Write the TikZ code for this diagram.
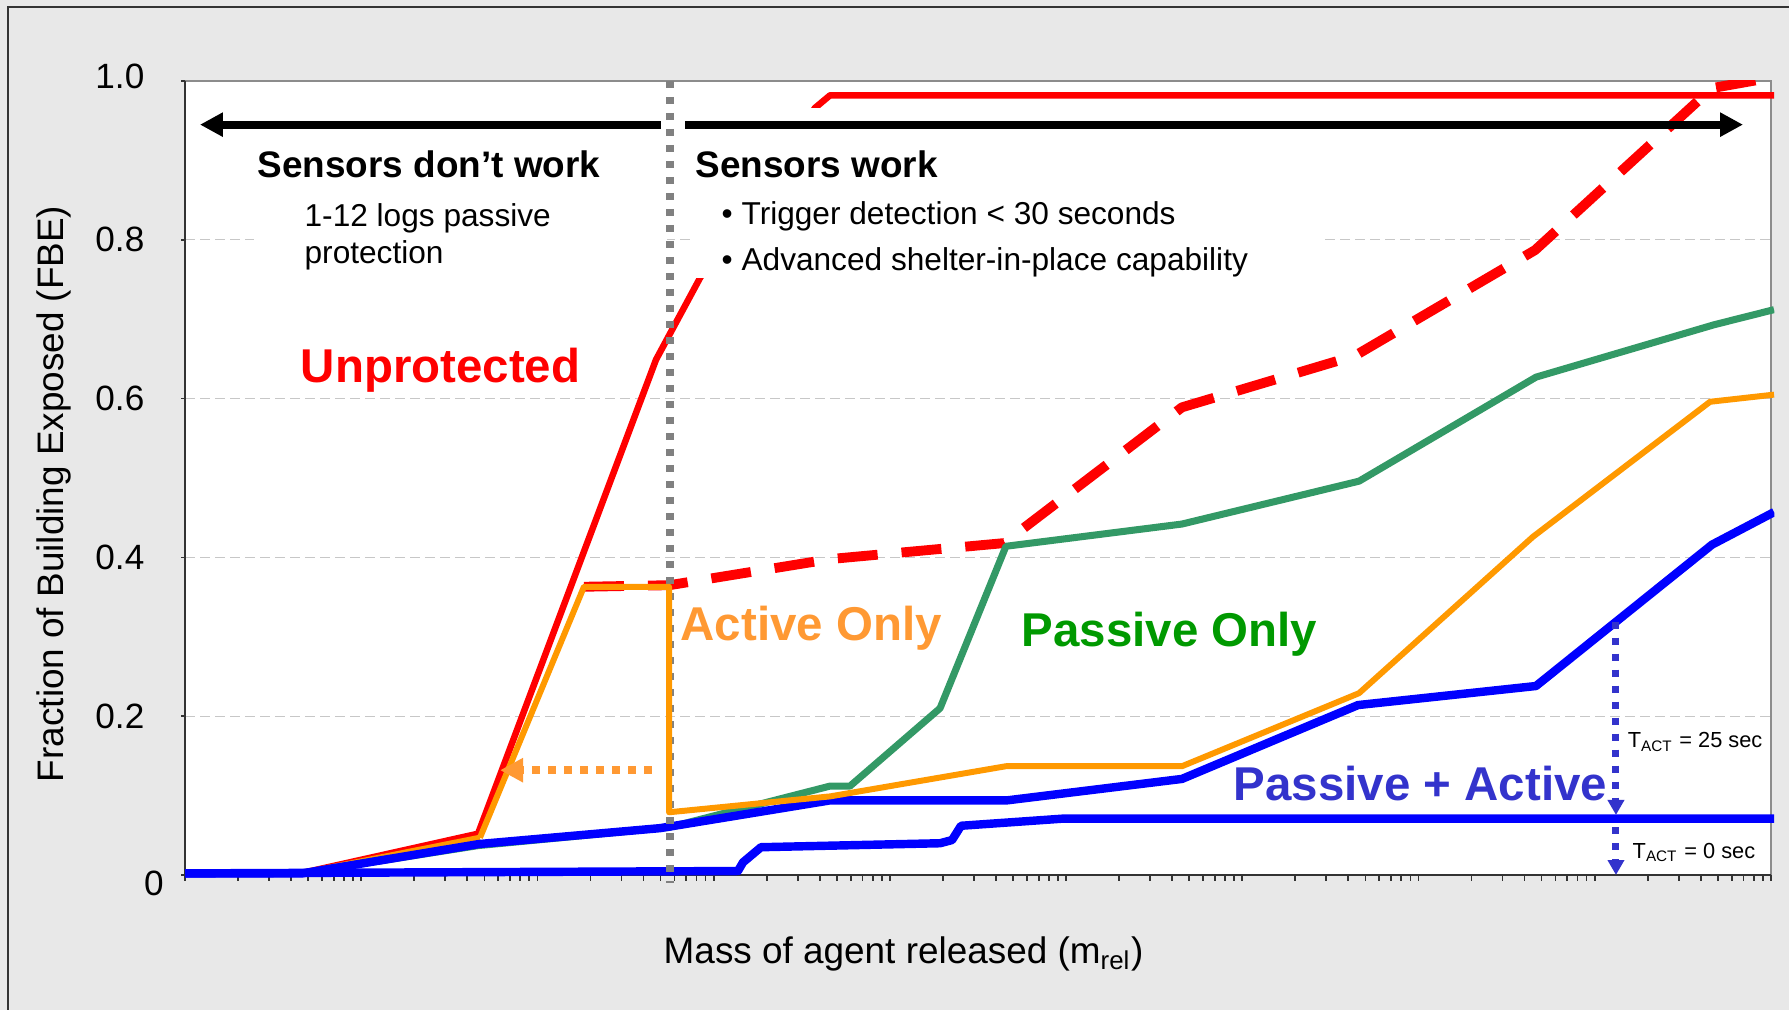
\documentclass[tikz,border=0pt]{standalone}
\usepackage{fontspec}
\setmainfont{Liberation Sans}
\usetikzlibrary{arrows.meta}
\definecolor{panel}{HTML}{E8E8E8}
\definecolor{unprot}{HTML}{FF0000}
\definecolor{actline}{HTML}{FF9900}
\definecolor{acttext}{HTML}{FF9933}
\definecolor{pasline}{HTML}{339966}
\definecolor{pastext}{HTML}{009900}
\definecolor{bothline}{HTML}{0000FF}
\definecolor{bothtext}{HTML}{3333CC}
\tikzset{series/.style={line width=#1, line join=round}}

\begin{document}
\begin{tikzpicture}[
		x=17.62mm, y=79.4mm, inner sep=0pt,
		font=\fontsize{10}{12}\selectfont,
		gridline/.style={draw=black!22, line width=0.3pt, dash pattern=on 1mm off 0.5mm},
		heading/.style={font=\bfseries\fontsize{10.5}{12}\selectfont, anchor=base west},
		note/.style={font=\fontsize{9}{11}\selectfont, anchor=base west},
		curvelabel/.style={font=\bfseries\fontsize{13.5}{16}\selectfont, anchor=base west},
		tact/.style={font=\fontsize{6.2}{7}\selectfont, anchor=base west},
		sensorrange/.style={-{Triangle[length=2.3mm, width=2.3mm]}, line width=2.3pt},
		shiftarrow/.style={-{Triangle[length=2.3mm, width=2.3mm]}, line width=2.3pt, dash pattern=on 0.8mm off 0.8mm},
		drop/.style={-{Triangle[length=1.5mm, width=1.6mm]}, line width=2pt, dash pattern=on 0.7mm off 0.9mm}
		]
		% background panel
		\fill[panel] (-1.050,-0.170) rectangle (9.103,1.102);
		\useasboundingbox (-1.050,-0.170) rectangle (9.103,1.102);
		\draw[black!80, line width=0.55pt] (-1.005,-0.170) -- (-1.005,1.093) -- (9.103,1.093);
		
		% plot area and grid
		\fill[white] (0,0) rectangle (9,1);
		\foreach \v in {0.2,0.4,0.6,0.8}
			\draw[gridline] (0,\v) -- (9,\v);
		\draw[black!45, line width=0.6pt] (0,1) -- (9,1) -- (9,0);
		\draw[black!80, line width=0.6pt] (0,1) -- (0,0) -- (9,0);
		
		% y axis
		\foreach \v in {0,0.2,...,1.0}
			\draw[black!80, line width=0.5pt] (0,\v) -- (-0.025,\v);
		\foreach \v in {0.2,0.4,0.6,0.8}
			\node[anchor=east] at (-0.227,\v) {\v};
		\node[anchor=east] (ytop) at (-0.227,1.006) {1.0};
		\node (yzero) at (-0.176,-0.011) {0};
		\node[rotate=90, font=\fontsize{10.5}{12}\selectfont] (ytitle) at (-0.743,0.480) {Fraction of Building Exposed (FBE)};
		
		% x axis, log decades
		\foreach \d in {0,...,9}
			\draw[black!80, line width=0.5pt] (\d,0) -- ++(0,-0.008);
		\foreach \d in {0,...,8}
			\foreach \k in {2,...,9}
				\draw[black!80, line width=0.5pt] ({\d+log10(\k)},0) -- ++(0,-0.008);
		\node[anchor=base, font=\fontsize{10.5}{12}\selectfont] (xtitle) at (4.078,-0.112) {Mass of agent released (m\textsubscript{rel})};
		
		% curves
		\begin{scope}
			\clip (-0.1,-0.05) rectangle (9.02,1);
			\draw[unprot, series=2.8pt, dash pattern=on 4mm off 2.4mm] (2.264,0.363) -- (2.750,0.365) -- (3.666,0.398) -- (4.648,0.418) -- (5.658,0.589) -- (6.640,0.654) -- (7.662,0.787) -- (8.666,0.991) -- (9.2,1.012);
			\draw[unprot, series=1.85pt] (0,0.002) -- (0.653,0.002) -- (1.663,0.052) -- (2.673,0.649) -- (2.923,0.752) -- (3.575,0.966) -- (3.661,0.982) -- (9.018,0.982);
			% orange: low end sits under the blue curves
			\draw[actline, series=1.7pt] (0,0.002) -- (0.653,0.002) -- (1.674,0.047);
			\draw[pasline, series=2pt] (0,0.002) -- (0.653,0.002) -- (1.663,0.037) -- (2.747,0.060) -- (3.661,0.112) -- (3.774,0.112) -- (4.285,0.210) -- (4.659,0.414) -- (5.658,0.442) -- (6.663,0.496) -- (7.667,0.627) -- (8.678,0.693) -- (9.018,0.712);
			\draw[bothline, series=2.4pt] (0,0.002) -- (0.664,0.002) -- (1.669,0.039) -- (2.696,0.059) -- (3.661,0.094) -- (4.665,0.094) -- (5.658,0.121) -- (6.657,0.214) -- (7.667,0.238) -- (8.666,0.416) -- (9.018,0.457);
			\draw[bothline, series=2.4pt] (0,0.002) -- (3.138,0.005) -- (3.167,0.016) -- (3.269,0.035) -- (4.285,0.040) -- (4.353,0.044) -- (4.404,0.062) -- (4.983,0.071) -- (9.018,0.071);
		\end{scope}
		
		% white boxes behind the text
		\fill[white] (0.392,0.752) rectangle (2.736,0.929);
		\fill[white] (2.894,0.752) rectangle (6.452,0.966);
		
		% sensor threshold
		\coordinate (thrtop) at (2.753,1);
		\coordinate (thrbot) at (2.753,-0.010);
		\draw[black!50, line width=2.1pt, dash pattern=on 0.75mm off 0.85mm] (thrtop) -- (thrbot);
		
		\draw[actline, series=1.7pt] (1.674,0.047) -- (2.264,0.363) -- (2.747,0.363) -- (2.747,0.079) -- (3.661,0.099) -- (4.659,0.137) -- (5.658,0.137) -- (6.663,0.229) -- (7.650,0.426) -- (8.655,0.596) -- (9.018,0.605);
		
		% ranges
		\coordinate (splitL) at (2.701,0.945);
		\coordinate (splitR) at (2.838,0.945);
		\coordinate (dontend) at (0.085,0.945);
		\coordinate (workend) at (8.842,0.945);
		\draw[sensorrange] (splitL) -- (dontend);
		\draw[sensorrange] (splitR) -- (workend);
		
		\node[heading] (dont) at (0.409,0.879) {Sensors don’t work};
		\node[note] (logs) at (0.675,0.817) {1-12 logs passive};
		\node[note] (prot) at ([yshift=-3.7mm]logs.base west) {protection};
		\node[heading] (work) at (2.894,0.879) {Sensors work};
		\node[note] (trig) at (3.042,0.819) {\textbullet\ Trigger detection < 30 seconds};
		\node[note] (shelter) at ([yshift=-4.6mm]trig.base west) {\textbullet\ Advanced shelter-in-place capability};
		
		% curve labels
		\node[curvelabel, text=unprot] (unp) at (0.653,0.620) {Unprotected};
		\node[curvelabel, text=acttext] (act) at (2.809,0.295) {Active Only};
		\node[curvelabel, text=pastext] (pas) at (4.745,0.288) {Passive Only};
		\node[curvelabel, text=bothtext] (both) at (5.948,0.094) {Passive + Active};
		
		% shift of the active curve
		\coordinate (shiftfrom) at (2.650,0.132);
		\coordinate (shiftto) at (1.788,0.132);
		\draw[shiftarrow, acttext] (shiftfrom) -- (shiftto);
		
		% activation time
		\coordinate (tact25) at (8.121,0.319);
		\coordinate (tactmid) at (8.121,0.0756);
		\coordinate (tactlow) at (8.121,0.060);
		\coordinate (tactzero) at (8.121,0);
		\draw[drop, bothtext] (tact25) -- (tactmid);
		\draw[drop, bothtext] (tactlow) -- (tactzero);
		\node[tact] (t25) at (8.184,0.160) {T\textsubscript{ACT} = 25 sec};
		\node[tact] (t0) at (8.212,0.021) {T\textsubscript{ACT} = 0 sec};
	\end{tikzpicture}
\end{document}
